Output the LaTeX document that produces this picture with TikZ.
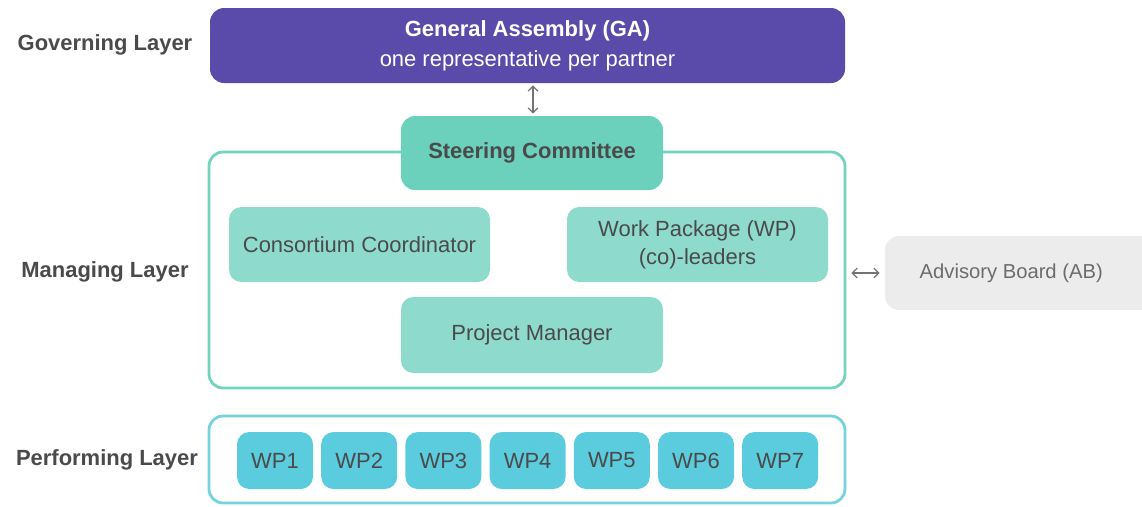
\documentclass[tikz,border=0pt]{standalone}
\usepackage{fontspec}
\setmainfont{Liberation Sans}
\usetikzlibrary{positioning,arrows.meta}
\definecolor{gapurple}{HTML}{5A4BAA}
\definecolor{scteal}{HTML}{6CD1BC}
\definecolor{mgframe}{HTML}{72D4BF}
\definecolor{mgfill}{HTML}{8EDBCD}
\definecolor{pfframe}{HTML}{74D3DC}
\definecolor{wpfill}{HTML}{5BCCDD}
\definecolor{abfill}{HTML}{ECECEC}
\definecolor{txtgray}{HTML}{4A4A4A}
\begin{document}
\begin{tikzpicture}[
    every node/.style={font=\fontsize{12.5}{16}\selectfont},
    layerlabel/.style={font=\fontsize{12.5}{16}\selectfont\bfseries, text=txtgray},
    frame/.style={draw, line width=1.6pt, rounded corners=8pt, minimum width=12.72cm},
    mgbox/.style={fill=mgfill, rounded corners=7pt, minimum width=5.22cm, minimum height=1.5cm, text=txtgray, align=center},
    wpbox/.style={fill=wpfill, rounded corners=7pt, minimum width=1.52cm, minimum height=1.14cm, text=txtgray},
    link/.style={{Straight Barb[length=2.8pt,width=5.5pt]}-{Straight Barb[length=2.8pt,width=5.5pt]}, draw=gray!90!black, line width=0.7pt}
  ]
  \useasboundingbox (0,0) rectangle (22.84,-10.12);

  % layer labels
  \node[layerlabel] (govlabel) at (2.1,-0.9) {Governing Layer};
  \node[layerlabel] (mglabel) at (2.1,-5.44) {Managing Layer};
  \node[layerlabel] (pflabel) at (2.14,-9.2) {Performing Layer};

  % governing layer
  \node[fill=gapurple, rounded corners=8pt, minimum width=12.7cm, minimum height=1.5cm,
        text=white, align=center, font=\fontsize{12.5}{17}\selectfont] (ga) at (10.55,-0.91)
        {\textbf{General Assembly (GA)}\\one representative per partner};

  % managing layer
  \node[frame, draw=mgframe, minimum height=4.72cm] (mgframe) at (10.54,-5.40) {};
  \node[fill=scteal, rounded corners=8pt, minimum width=5.24cm, minimum height=1.48cm,
        text=txtgray, font=\fontsize{12.5}{16}\selectfont\bfseries] (sc) at (10.64,-3.06) {Steering Committee};
  \node[mgbox] (coord) at (7.19,-4.89) {Consortium Coordinator};
  \node[mgbox] (wplead) at (13.95,-4.89) {Work Package (WP)\\(co)-leaders};
  \node[mgbox, minimum width=5.24cm, minimum height=1.52cm] (pm) at (10.64,-6.70) {Project Manager};

  % advisory board
  \node[fill=abfill, rounded corners=8pt, minimum width=5.4cm, minimum height=1.48cm,
        text=gray!85!black, font=\fontsize{11.5}{14}\selectfont] (ab) at (20.4,-5.46) {Advisory Board (AB)\hspace*{0.35cm}};

  % performing layer
  \node[frame, draw=pfframe, minimum height=1.74cm] (pfframe) at (10.54,-9.19) {};
  \foreach \i in {1,...,7}
    \node[wpbox] (wp\i) at ({5.5+1.684*(\i-1)},-9.21) {WP\i};

  % connectors
  \draw[link] ([xshift=0.11cm,yshift=-0.04cm]ga.south) -- ([xshift=0.02cm,yshift=0.04cm]sc.north);
  \draw[link] ([xshift=0.1cm]mgframe.east |- ab.west) -- ([xshift=-0.1cm]ab.west);
\end{tikzpicture}
\end{document}
